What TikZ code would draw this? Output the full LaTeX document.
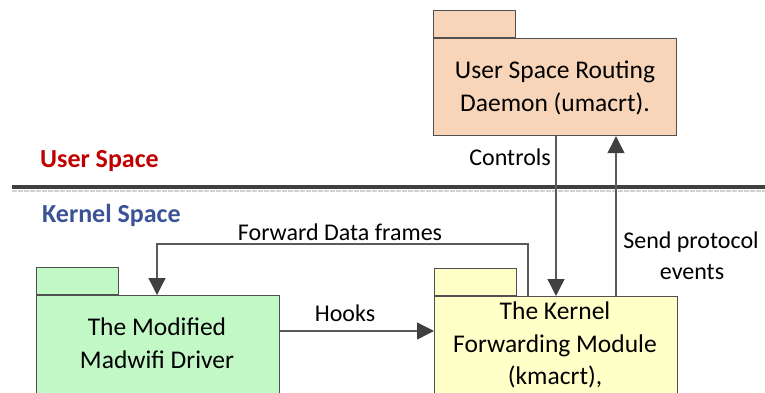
\documentclass[tikz,border=0pt]{standalone}
\usepackage{fontspec}
\setmainfont{Carlito}
\usetikzlibrary{arrows.meta}

\definecolor{peach}{HTML}{F8D5B8}
\definecolor{mint}{HTML}{C2F8C6}
\definecolor{cream}{HTML}{FFFFC8}
\definecolor{edge}{HTML}{505050}
\definecolor{wire}{HTML}{5A5A5A}
\definecolor{tipc}{HTML}{404040}
\definecolor{userred}{HTML}{C00000}
\definecolor{kernblue}{HTML}{3A5396}

\tikzset{
  pkgbody/.style={draw=edge, line width=1.2pt, anchor=north west,
    minimum width=243pt, minimum height=140pt, inner sep=0pt},
  pkgtab/.style={draw=edge, line width=1.2pt, anchor=south west,
    minimum width=82pt, minimum height=27pt, inner sep=0pt},
  boxtext/.style={align=center, inner sep=0pt,
    font=\fontsize{25.5}{32.5}\selectfont},
  lbl/.style={inner sep=0pt, font=\fontsize{24}{31}\selectfont},
  heading/.style={inner sep=0pt, anchor=base west,
    font=\fontsize{26}{30}\selectfont\bfseries},
  conn/.style={draw=wire, line width=1.3pt},
  arr/.style={conn, -{Triangle[length=17pt,width=17pt,fill=tipc,color=tipc]}},
  rulebar/.style={draw=tipc, line width=3.5pt},
  rulehaze/.style={draw=black!18, line width=2.5pt, dash pattern=on 5pt off 1pt}
}

\begin{document}
\begin{tikzpicture}[x=1pt,y=-1pt]
\useasboundingbox (0,0) rectangle (765,392);
\clip (0,0) rectangle (765,392);

% separator between user space and kernel space
\coordinate (ruleL) at (12,187);
\coordinate (ruleR) at (765,187);
\draw[rulehaze] ([yshift=-4pt]ruleL) -- ([yshift=-4pt]ruleR);
\draw[rulebar] (ruleL) -- (ruleR);

\node[heading, text=userred]  (uhead) at (40,167) {User Space};
\node[heading, text=kernblue] (khead) at (42,222) {Kernel Space};

% user space routing daemon
\node[pkgtab, fill=peach] (dtab) at (433,38) {};
\node[pkgbody, fill=peach, minimum height=97pt] (dbody) at (433,38) {};
\node[boxtext] (dtext) at (555,88) {User Space Routing\\Daemon (umacrt).};

% modified madwifi driver
\node[pkgtab, fill=mint] (gtab) at (36,295) {};
\node[pkgbody, fill=mint] (gbody) at (36,295) {};
\node[boxtext] (gtext) at (157,343) {The Modified\\Madwifi Driver};

% kernel forwarding module
\node[pkgtab, fill=cream] (ktab) at (434,296) {};
\node[pkgbody, fill=cream] (kbody) at (434,296) {};
\node[boxtext] (ktext) at (555,345) {The Kernel\\Forwarding Module\\(kmacrt),};

% connectors
\coordinate (ctlx) at (556,0);
\coordinate (sndx) at (616,0);
\coordinate (fwd)  at (528,244);
\coordinate (gin)  at (157,0);
\coordinate (hk)   at (0,331);

\draw[arr] (dbody.south -| ctlx) -- (kbody.north -| ctlx);
\draw[arr] (kbody.north -| sndx) -- (dbody.south -| sndx);
\draw[arr] (kbody.north -| fwd) -- (fwd) -| (gbody.north -| gin);
\draw[arr] (gbody.east |- hk) -- (kbody.west |- hk);

% connector labels
\node[lbl, anchor=base east] (lctl) at (551,165) {Controls};
\node[lbl, anchor=base] (lhook) at (345,321) {Hooks};
\node[lbl, anchor=base] (lfwd) at (340,240) {Forward Data frames};
\node[lbl, anchor=base] (lsnd1) at (691,248) {Send protocol};
\node[lbl, anchor=base] (lsnd2) at (692,279) {events};
\end{tikzpicture}
\end{document}
